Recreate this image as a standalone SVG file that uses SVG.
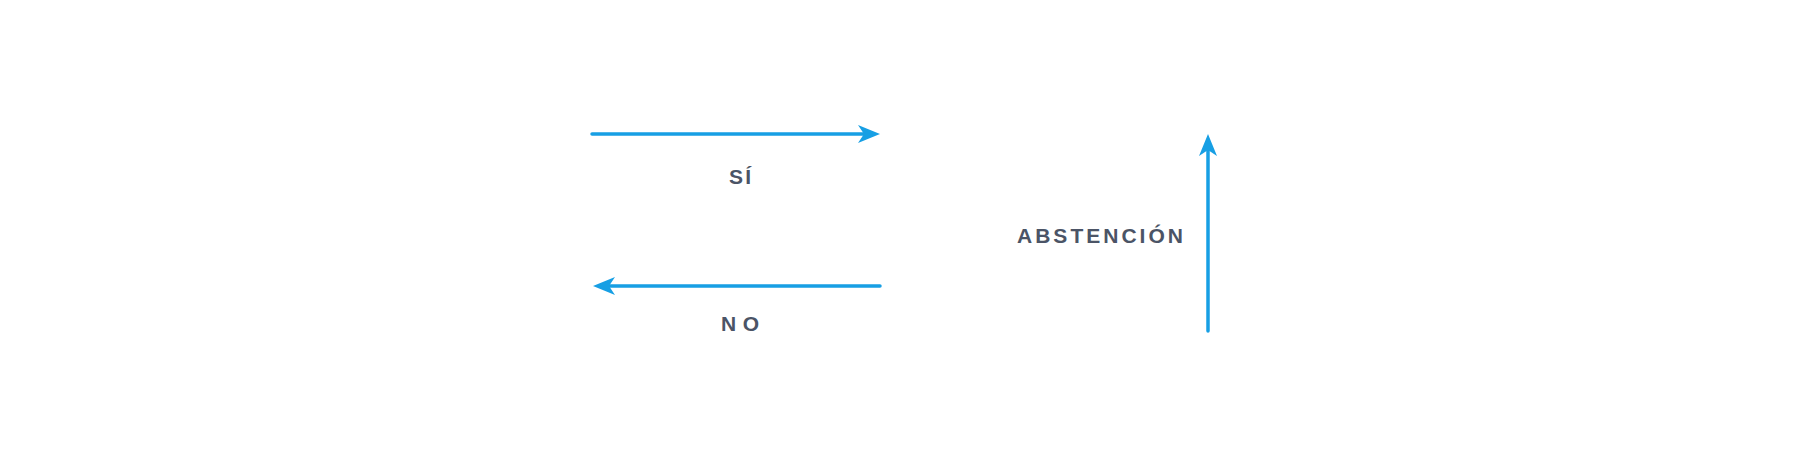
<svg xmlns="http://www.w3.org/2000/svg" width="1800" height="473" viewBox="0 0 1800 473">
  <style>
    .lbl { font-family: "Liberation Sans", Arial, sans-serif; font-weight: bold; font-size: 21px; fill: #4b5466; }
    .conn { stroke: #179fe4; stroke-width: 3.5; stroke-linecap: round; fill: none; }
  </style>
  <defs>
    <marker id="ah" markerUnits="userSpaceOnUse" markerWidth="22" markerHeight="18" viewBox="0 0 22 18" refX="6" refY="9" orient="auto">
      <path d="M0,0 L22,9 L0,18 L6,9 Z" fill="#179fe4"/>
    </marker>
  </defs>
  <rect width="1800" height="473" fill="#ffffff"/>
  <g id="connectors">
    <line class="conn" x1="592" y1="134" x2="864" y2="134" marker-end="url(#ah)"/>
    <line class="conn" x1="880" y1="286" x2="609" y2="286" marker-end="url(#ah)"/>
    <line class="conn" x1="1208" y1="331" x2="1208" y2="150" marker-end="url(#ah)"/>
  </g>
  <g id="si">
    <text class="lbl" x="729" y="184" textLength="22" lengthAdjust="spacing">SÍ</text>
  </g>
  <g id="no">
    <text class="lbl" x="721" y="331" textLength="38" lengthAdjust="spacing">NO</text>
  </g>
  <g id="abstencion">
    <text class="lbl" x="1017" y="243" textLength="166" lengthAdjust="spacing">ABSTENCIÓN</text>
  </g>
</svg>
